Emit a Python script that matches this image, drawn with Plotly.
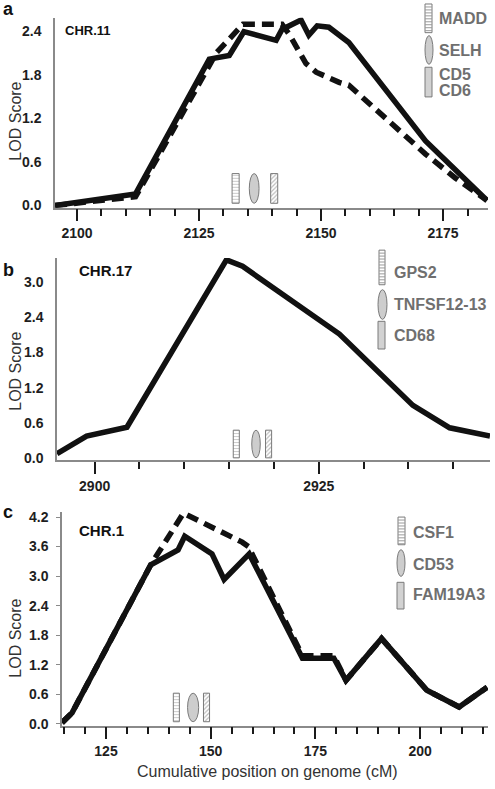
import plotly.graph_objects as go

W, H = 495, 789

# ---------------- data ----------------
# Panel a (CHR.11)
a_x_solid = [2095.5, 2112.0, 2127.1, 2131.2, 2134.2, 2140.8, 2142.0, 2145.9, 2147.5, 2149.2, 2151.6, 2155.7, 2171.4, 2184.0]
a_y_solid = [0.00, 0.16, 2.02, 2.07, 2.40, 2.28, 2.43, 2.56, 2.35, 2.48, 2.46, 2.25, 0.89, 0.07]
a_x_dash = [2095.5, 2112.0, 2128.6, 2134.0, 2142.0, 2143.5, 2146.9, 2149.0, 2153.7, 2155.7, 2171.4, 2177.5, 2184.0]
a_y_dash = [0.00, 0.12, 2.11, 2.50, 2.50, 2.36, 1.96, 1.84, 1.70, 1.66, 0.71, 0.38, 0.07]
a_gene_pos = [2132.5, 2136.3, 2140.4]
a_gene_labels = ["MADD", "SELH", "CD5", "CD6"]

# Panel b (CHR.17)
b_x = [2895.8, 2899.1, 2903.6, 2914.7, 2916.5, 2927.3, 2935.5, 2939.6, 2944.1]
b_y = [0.08, 0.38, 0.53, 3.37, 3.26, 2.11, 0.90, 0.52, 0.38]
b_gene_pos = [2915.8, 2918.0, 2919.4]
b_gene_labels = ["GPS2", "TNFSF12-13", "CD68"]

# Panel c (CHR.1)
c_x_solid = [114.5, 116.9, 135.7, 142.2, 143.8, 150.3, 153.2, 159.2, 171.9, 179.4, 182.3, 190.8, 201.6, 209.3, 216.0]
c_y_solid = [0.02, 0.22, 3.23, 3.53, 3.81, 3.45, 2.93, 3.45, 1.33, 1.33, 0.88, 1.73, 0.68, 0.34, 0.74]
c_x_dash = [114.5, 116.9, 135.7, 143.5, 157.5, 159.0, 171.9, 179.4, 182.3, 190.8, 201.6, 209.3, 216.0]
c_y_dash = [0.02, 0.22, 3.23, 4.28, 3.69, 3.60, 1.38, 1.38, 0.88, 1.73, 0.68, 0.34, 0.74]
c_gene_pos = [141.8, 145.8, 149.0]
c_gene_labels = ["CSF1", "CD53", "FAM19A3"]

y_ticks_a = [0.0, 0.6, 1.2, 1.8, 2.4]
y_ticks_b = [0.0, 0.6, 1.2, 1.8, 2.4, 3.0]
y_ticks_c = [0.0, 0.6, 1.2, 1.8, 2.4, 3.0, 3.6, 4.2]

# ---------------- helpers ----------------
def px(x):
    return x / W

def py(y):
    return 1 - y / H

LINE = "#111111"
GRAY_TXT = "#6f6f6f"
ICON_LINE = "#7a7a7a"
ELL_FILL = "#cdcdcd"
FONT = "Liberation Sans"

fig = go.Figure()

def add_curve(x, y, xa, ya, dash=None):
    fig.add_trace(go.Scatter(
        x=x, y=y, mode="lines", xaxis=xa, yaxis=ya, showlegend=False,
        line=dict(color=LINE, width=5.5, dash=dash if dash else "solid"),
        hoverinfo="skip"))

def add_genes(pos, xa, ya, base, top, rect_w, ell_w):
    fig.add_trace(go.Bar(
        x=[pos[0]], y=[top - base], base=[base], width=[rect_w], xaxis=xa, yaxis=ya,
        showlegend=False, hoverinfo="skip",
        marker=dict(color="white", line=dict(color=ICON_LINE, width=1),
                    pattern=dict(shape="-", fgcolor="#8a8a8a", size=3, solidity=0.3))))
    fig.add_trace(go.Bar(
        x=[pos[2]], y=[top - base], base=[base], width=[rect_w], xaxis=xa, yaxis=ya,
        showlegend=False, hoverinfo="skip",
        marker=dict(color="white", line=dict(color=ICON_LINE, width=1),
                    pattern=dict(shape="/", fgcolor="#7a7a7a", size=3, solidity=0.4))))
    fig.add_shape(type="circle", xref=xa, yref=ya,
                  x0=pos[1] - ell_w / 2, x1=pos[1] + ell_w / 2, y0=base, y1=top,
                  fillcolor=ELL_FILL, line=dict(color=ICON_LINE, width=1))

def icon_hstripe(x0, x1, y0, y1):
    fig.add_shape(type="rect", xref="paper", yref="paper",
                  x0=px(x0), x1=px(x1), y0=py(y1), y1=py(y0),
                  fillcolor="white", line=dict(color=ICON_LINE, width=1))
    path = ""
    yy = y0 + 3
    while yy < y1:
        path += f"M{px(x0)},{py(yy)} L{px(x1)},{py(yy)} "
        yy += 3
    fig.add_shape(type="path", xref="paper", yref="paper", path=path,
                  line=dict(color="#9a9a9a", width=1))

def icon_drect(x0, x1, y0, y1):
    fig.add_shape(type="rect", xref="paper", yref="paper",
                  x0=px(x0), x1=px(x1), y0=py(y1), y1=py(y0),
                  fillcolor="#d2d2d2", line=dict(color=ICON_LINE, width=1))

def icon_ellipse(x0, x1, y0, y1):
    fig.add_shape(type="circle", xref="paper", yref="paper",
                  x0=px(x0), x1=px(x1), y0=py(y1), y1=py(y0),
                  fillcolor=ELL_FILL, line=dict(color=ICON_LINE, width=1))

def label(text, x, y, size=16, color=GRAY_TXT, bold=True, xanchor="left"):
    fig.add_annotation(text=f"<b>{text}</b>" if bold else text,
                       xref="paper", yref="paper", x=px(x), y=py(y),
                       xanchor=xanchor, yanchor="middle", showarrow=False,
                       font=dict(family=FONT, size=size, color=color))

# ---------------- panel a ----------------
add_curve(a_x_dash, a_y_dash, "x", "y", dash="12px,7px")
add_curve(a_x_solid, a_y_solid, "x", "y")
add_genes(a_gene_pos, "x", "y", 0.03, 0.44, 1.45, 2.0)

# ---------------- panel b ----------------
add_curve(b_x, b_y, "x2", "y2")
add_genes(b_gene_pos, "x2", "y2", 0.01, 0.48, 0.68, 0.95)

# ---------------- panel c ----------------
add_curve(c_x_dash, c_y_dash, "x3", "y3", dash="12px,7px")
add_curve(c_x_solid, c_y_solid, "x3", "y3")
add_genes(c_gene_pos, "x3", "y3", 0.04, 0.62, 1.45, 2.65)

# ---------------- axes ----------------
def xax(rng, dom, anchor, tick0):
    return dict(domain=dom, range=rng, anchor=anchor, showline=True,
                linecolor="#8a8a8a", linewidth=1.5, showgrid=False, zeroline=False,
                ticks="outside", ticklen=12, tickwidth=2.2, tickcolor="#1a1a1a",
                tick0=tick0, dtick=25,
                minor=dict(ticks="outside", ticklen=7, tickwidth=1.6,
                           tickcolor="#1a1a1a", dtick=5, tick0=tick0, showgrid=False),
                tickfont=dict(family=FONT, size=14, color="#1e1e1e", weight="bold"),
                fixedrange=True)

def yax(rng, dom, anchor, tickvals, ticks=""):
    d = dict(domain=dom, range=rng, anchor=anchor, showline=True,
             linecolor="#8a8a8a", linewidth=1.5, showgrid=False, zeroline=False,
             tickvals=tickvals, ticktext=[f"{v:.1f}" for v in tickvals],
             ticks=ticks, ticklabelstandoff=9,
             tickfont=dict(family=FONT, size=14, color="#1e1e1e", weight="bold"),
             fixedrange=True)
    if ticks:
        d.update(ticklen=4, tickwidth=1.2, tickcolor="#8a8a8a", ticklabelstandoff=5)
    return d

fig.update_layout(
    width=W, height=H, margin=dict(l=0, r=0, t=0, b=0),
    plot_bgcolor="white", paper_bgcolor="white", barmode="overlay",
    showlegend=False,
    xaxis=xax([2095.5, 2184.2], [px(55), px(488)], "y", 2100),
    yaxis=yax([-0.03, 2.59], [py(207), py(15)], "x", y_ticks_a),
    xaxis2=xax([2895.8, 2944.1], [px(57), px(490)], "y2", 2900),
    yaxis2=yax([-0.03, 3.40], [py(462.5), py(258)], "x2", y_ticks_b),
    xaxis3=xax([114.5, 216.2], [px(62), px(488)], "y3", 125),
    yaxis3=yax([-0.04, 4.30], [py(731), py(515)], "x3", y_ticks_c, ticks="outside"),
)

for yc in [120, 373, 643]:
    fig.add_annotation(text="LOD Score", xref="paper", yref="paper", x=px(16), y=py(yc),
                       xanchor="center", yanchor="middle", textangle=-90, showarrow=False,
                       font=dict(family=FONT, size=16, color="#333333"))

label("Cumulative position on genome (cM)", 267, 777, size=16, color="#333333",
      bold=False, xanchor="center")

label("a", 1, 6, size=18, color="#111111")
label("b", 1, 270, size=18, color="#111111")
label("c", 1, 515, size=18, color="#111111")

label("CHR.11", 63, 28, size=13, color="#111111")
label("CHR.17", 77, 271, size=15, color="#111111")
label("CHR.1", 77, 534, size=15, color="#111111")

icon_hstripe(425, 432, 1, 30)
icon_ellipse(425, 433, 33, 62)
icon_drect(425, 432, 65, 95)
label(a_gene_labels[0], 437, 16)
label(a_gene_labels[1], 437, 48)
label(a_gene_labels[2], 437, 72)
label(a_gene_labels[3], 437, 89)

icon_hstripe(379, 385, 250, 285)
icon_ellipse(378, 387, 290, 320)
icon_drect(378, 385, 322, 350)
label(b_gene_labels[0], 392, 273)
label(b_gene_labels[1], 392, 305)
label(b_gene_labels[2], 392, 336)

icon_hstripe(398, 405, 520, 548)
icon_ellipse(397, 405, 553, 580)
icon_drect(397, 404, 586, 613)
label(c_gene_labels[0], 411, 536)
label(c_gene_labels[1], 411, 568)
label(c_gene_labels[2], 411, 598)

fig.write_html("out.html", config={"displayModeBar": False},
               post_script="document.body.style.margin='0';document.body.style.overflow='hidden';")
